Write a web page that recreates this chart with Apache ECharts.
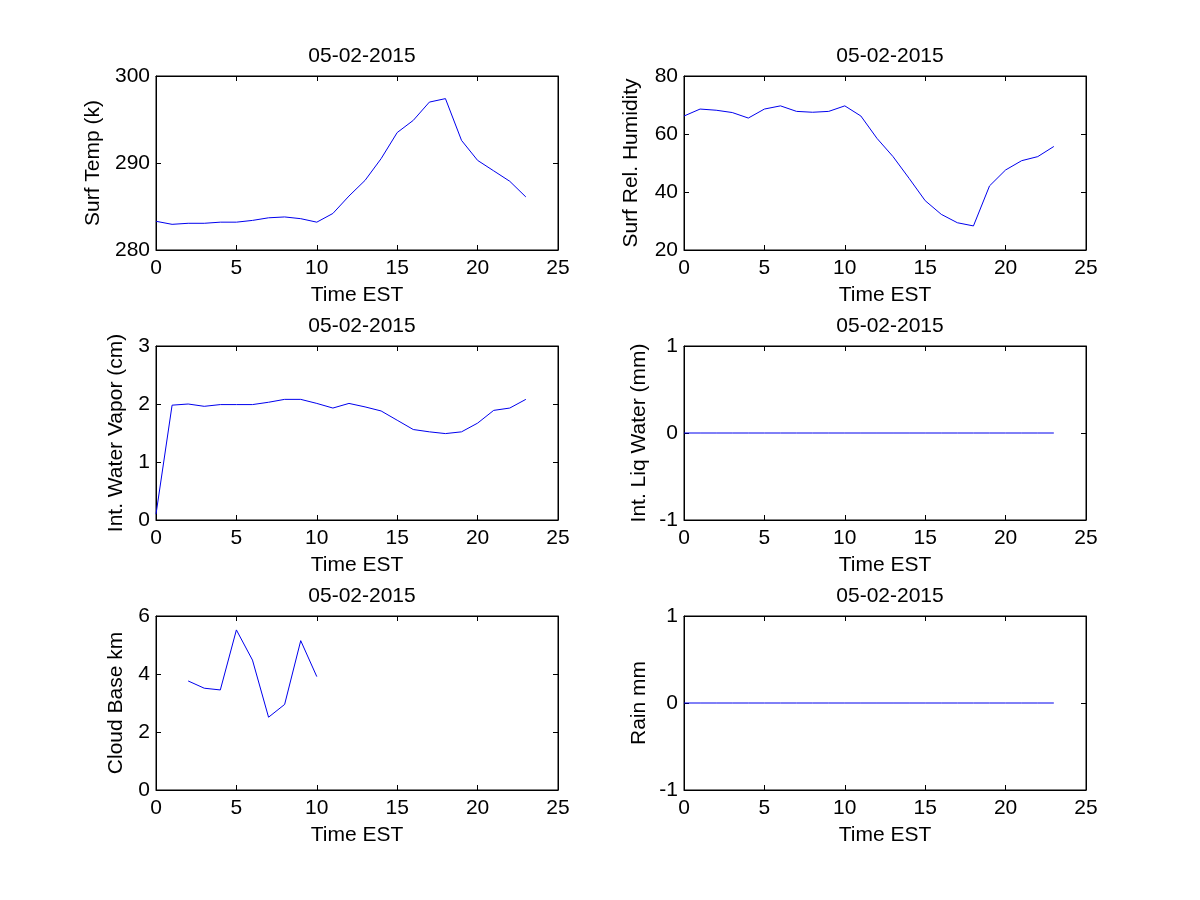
<!DOCTYPE html>
<html><head><meta charset="utf-8">
<script src="https://cdn.jsdelivr.net/npm/echarts@6/dist/echarts.min.js"></script>
<style>html,body{margin:0;padding:0;background:#fff}#c{width:1200px;height:900px}</style>
</head><body><div id="c"></div>
<script>
const hours = [0,1,2,3,4,5,6,7,8,9,10,11,12,13,14,15,16,17,18,19,20,21,22,23];
const surfTemp = [283.3,282.95,283.07,283.07,283.2,283.2,283.4,283.7,283.8,283.6,283.2,284.2,286.2,288.0,290.5,293.5,294.9,297.0,297.4,292.6,290.3,289.1,287.9,286.1];
const surfRH = [66.2,68.6,68.2,67.4,65.5,68.6,69.7,67.8,67.5,67.8,69.7,66.2,58.5,52.2,44.7,37.0,32.3,29.4,28.3,42.1,47.6,50.8,52.2,55.7];
const waterVapor = [0.1,1.98,2.0,1.96,1.99,1.99,1.99,2.03,2.08,2.08,2.01,1.93,2.01,1.95,1.88,1.72,1.56,1.52,1.49,1.52,1.67,1.89,1.93,2.08];
const liqWater = [0,0,0,0,0,0,0,0,0,0,0,0,0,0,0,0,0,0,0,0,0,0,0,0];
const cloudHours = [2,3,4,5,6,7,8,9,10];
const cloudBase = [3.76,3.51,3.45,5.52,4.48,2.51,2.95,5.15,3.91];
const rain = [0,0,0,0,0,0,0,0,0,0,0,0,0,0,0,0,0,0,0,0,0,0,0,0];
const dateTitle = '05-02-2015';
const xLabel = 'Time EST';

const panels = [
  {name:'Surf Temp (k)', x:hours, y:surfTemp, min:280, max:300, interval:10, gap:52},
  {name:'Surf Rel. Humidity', x:hours, y:surfRH, min:20, max:80, interval:20, gap:42},
  {name:'Int. Water Vapor (cm)', x:hours, y:waterVapor, min:0, max:3, interval:1, gap:29},
  {name:'Int. Liq Water (mm)', x:hours, y:liqWater, min:-1, max:1, interval:1, gap:34},
  {name:'Cloud Base km', x:cloudHours, y:cloudBase, min:0, max:6, interval:2, gap:29},
  {name:'Rain mm', x:hours, y:rain, min:-1, max:1, interval:1, gap:34}
];
const lefts = [156, 684];
const tops = [76, 346, 616];
const W = 402, H = 174;
const FONT = 'Liberation Sans, Arial, sans-serif';
const FS = 21;
const grids = [], xAxes = [], yAxes = [], series = [], titles = [];
panels.forEach((p, i) => {
  const col = i % 2, row = Math.floor(i / 2);
  grids.push({left: lefts[col], top: tops[row], width: W, height: H, show: true, borderColor: '#000', borderWidth: 1, backgroundColor: '#fff'});
  const tickStyle = {show: true, inside: true, length: 5, lineStyle: {color: '#000', width: 1}};
  xAxes.push({gridIndex: i, type: 'value', min: 0, max: 25, interval: 5, position: 'bottom',
    axisLine: {show: true, onZero: false, lineStyle: {color: '#000'}}, axisTick: tickStyle, splitLine: {show: false},
    axisLabel: {color: '#000', fontSize: FS, fontFamily: FONT, margin: 8},
    name: xLabel, nameLocation: 'middle', nameGap: 35, nameTextStyle: {color: '#000', fontSize: FS, fontFamily: FONT}});
  xAxes.push({gridIndex: i, type: 'value', min: 0, max: 25, interval: 5, position: 'top',
    axisLine: {show: true, onZero: false, lineStyle: {color: '#000'}}, axisTick: tickStyle, splitLine: {show: false}, axisLabel: {show: false}});
  yAxes.push({gridIndex: i, type: 'value', min: p.min, max: p.max, interval: p.interval, position: 'left',
    axisLine: {show: true, onZero: false, lineStyle: {color: '#000'}}, axisTick: tickStyle, splitLine: {show: false},
    axisLabel: {color: '#000', fontSize: FS, fontFamily: FONT, margin: 6},
    name: p.name, nameLocation: 'middle', nameGap: p.gap, nameTextStyle: {color: '#000', fontSize: FS, fontFamily: FONT}});
  yAxes.push({gridIndex: i, type: 'value', min: p.min, max: p.max, interval: p.interval, position: 'right',
    axisLine: {show: true, onZero: false, lineStyle: {color: '#000'}}, axisTick: tickStyle, splitLine: {show: false}, axisLabel: {show: false}});
  series.push({type: 'line', xAxisIndex: 2 * i, yAxisIndex: 2 * i, data: p.x.map((h, k) => [h, p.y[k]]),
    showSymbol: false, symbol: 'none', lineStyle: {color: '#0000ee', width: 1}, itemStyle: {color: '#0000ee'}, animation: false, silent: true});
  titles.push({text: dateTitle, left: lefts[col] + W / 2, top: tops[row] - 35, textAlign: 'center',
    textStyle: {color: '#000', fontSize: FS, fontWeight: 'normal', fontFamily: FONT}});
});
const chart = echarts.init(document.getElementById('c'));
chart.setOption({backgroundColor: '#fff', animation: false, title: titles, grid: grids, xAxis: xAxes, yAxis: yAxes, series: series});
</script></body></html>
